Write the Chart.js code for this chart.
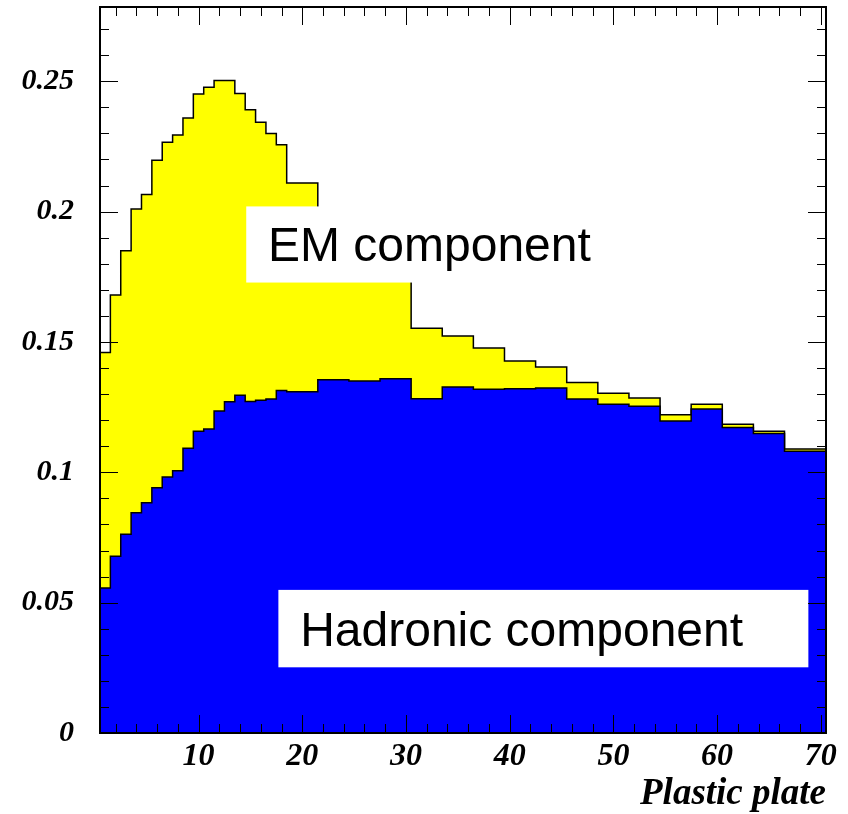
<!DOCTYPE html>
<html>
<head>
<meta charset="utf-8">
<title>Plastic plate</title>
<script src="https://cdn.jsdelivr.net/npm/chart.js@4.4.1/dist/chart.umd.min.js"></script>
<style>
  html, body { margin: 0; padding: 0; background: #fff; }
  canvas { display: block; }
</style>
</head>
<body>
<canvas id="plot" width="848" height="814"></canvas>
<script>
// ── data ──────────────────────────────────────────
// bin edges along the plastic plate number (single plates first, then groups of 3)
const binEdges = [0.5, 1.5, 2.5, 3.5, 4.5, 5.5, 6.5, 7.5, 8.5, 9.5, 10.5, 11.5, 12.5,
  13.5, 14.5, 15.5, 16.5, 17.5, 18.5, 21.5, 24.5, 27.5, 30.5, 33.5, 36.5, 39.5,
  42.5, 45.5, 48.5, 51.5, 54.5, 57.5, 60.5, 63.5, 66.5, 70.5];

// hadronic part of the signal per bin
const hadronic = [0.0556, 0.0678, 0.0762, 0.0845, 0.0883, 0.0941, 0.0982, 0.1006,
  0.1092, 0.1158, 0.1166, 0.1235, 0.1271, 0.1296, 0.1272, 0.1276, 0.1281, 0.1314,
  0.1309, 0.1355, 0.1350, 0.1359, 0.1282, 0.1327, 0.1319, 0.1321, 0.1323, 0.1281,
  0.1261, 0.1253, 0.1197, 0.1243, 0.1172, 0.1149, 0.1081];

// electromagnetic part, stacked on top of the hadronic one
const emComponent = [0.0904, 0.1002, 0.1088, 0.1165, 0.1183, 0.1256, 0.1284, 0.1288,
  0.1267, 0.1293, 0.1311, 0.1268, 0.1232, 0.1157, 0.1119, 0.1067, 0.1019, 0.0943,
  0.0801, 0.0635, 0.0520, 0.0401, 0.0271, 0.0196, 0.0158, 0.0106, 0.0081, 0.0064,
  0.0042, 0.0032, 0.0024, 0.0018, 0.0012, 0.0009, 0.0008];

const xTicks = [10, 20, 30, 40, 50, 60, 70];
const xTickLabels = ['10', '20', '30', '40', '50', '60', '70'];
const yTicks = [0, 0.05, 0.1, 0.15, 0.2, 0.25];
const yTickLabels = ['0', '0.05', '0.1', '0.15', '0.2', '0.25'];

const X_MIN = 0.5, X_MAX = 70.5;
const Y_MIN = 0, Y_MAX = 0.2785;

// text panels, in axis units
const panels = [
  { text: 'EM component', x0: 14.6, x1: 50, y0: 0.2020, y1: 0.1728, tx: 16.7, ty: 0.1810 },
  { text: 'Hadronic component', x0: 17.7, x1: 68.8, y0: 0.0549, y1: 0.0252, tx: 19.8, ty: 0.0335 }
];

// ── helpers ───────────────────────────────────────
// histogram -> points at bin edges, last edge repeats the last content
function histPoints(values) {
  return binEdges.map((e, i) => ({ x: e, y: values[Math.min(i, values.length - 1)] }));
}

const total = hadronic.map((h, i) => h + emComponent[i]);

const tickFont = size => ({ family: 'Liberation Serif', size, weight: 'bold', style: 'italic' });

// panels, inward ticks on all four sides and the frame
const frameAndPanels = {
  id: 'frameAndPanels',
  afterDatasetsDraw(chart) {
    const { ctx, chartArea: a, scales: { x, y } } = chart;
    ctx.save();

    panels.forEach(p => {
      const left = x.getPixelForValue(p.x0), right = x.getPixelForValue(p.x1);
      const top = y.getPixelForValue(p.y0), bottom = y.getPixelForValue(p.y1);
      ctx.fillStyle = '#fff';
      ctx.fillRect(left, top, right - left, bottom - top);
      ctx.fillStyle = '#000';
      ctx.font = '48px "Liberation Sans", Arial, sans-serif';
      ctx.textAlign = 'left';
      ctx.textBaseline = 'alphabetic';
      ctx.fillText(p.text, x.getPixelForValue(p.tx), y.getPixelForValue(p.ty));
    });

    ctx.strokeStyle = '#000';
    ctx.lineWidth = 1;
    ctx.beginPath();
    for (let v = 2; v < X_MAX; v += 2) {
      const len = v % 10 === 0 ? 18 : 9;
      const px = Math.round(x.getPixelForValue(v)) + 0.5;
      ctx.moveTo(px, a.bottom); ctx.lineTo(px, a.bottom - len);
      ctx.moveTo(px, a.top); ctx.lineTo(px, a.top + len);
    }
    for (let i = 1; i / 100 < Y_MAX; i++) {
      const len = i % 5 === 0 ? 18 : 9;
      const py = Math.round(y.getPixelForValue(i / 100)) + 0.5;
      ctx.moveTo(a.left, py); ctx.lineTo(a.left + len, py);
      ctx.moveTo(a.right, py); ctx.lineTo(a.right - len, py);
    }
    ctx.stroke();

    ctx.lineWidth = 2;
    ctx.strokeRect(a.left, a.top, a.right - a.left, a.bottom - a.top);
    ctx.restore();
  }
};

// ── chart ─────────────────────────────────────────
new Chart(document.getElementById('plot'), {
  type: 'line',
  data: {
    datasets: [
      {
        label: 'Hadronic component',
        data: histPoints(hadronic),
        stepped: true,
        fill: 'origin',
        backgroundColor: '#0000ff',
        borderColor: '#000',
        borderWidth: 1.5,
        pointRadius: 0,
        order: 1
      },
      {
        label: 'EM component',
        data: histPoints(total),
        stepped: true,
        fill: 'origin',
        backgroundColor: '#ffff00',
        borderColor: '#000',
        borderWidth: 1.5,
        pointRadius: 0,
        order: 2
      }
    ]
  },
  options: {
    responsive: false,
    devicePixelRatio: 1,
    animation: false,
    layout: { padding: { left: 0, top: 7, right: 22, bottom: 0 } },
    plugins: {
      legend: { display: false },
      tooltip: { enabled: false }
    },
    scales: {
      x: {
        type: 'linear',
        min: X_MIN,
        max: X_MAX,
        grid: { display: false, drawTicks: false },
        border: { display: false },
        afterBuildTicks: s => { s.ticks = xTicks.map(v => ({ value: v })); },
        afterFit: s => { s.height = 81; s.paddingLeft = 0; s.paddingRight = 0; },
        ticks: {
          autoSkip: false,
          maxRotation: 0,
          padding: 5,
          color: '#000',
          font: tickFont(32),
          callback: v => xTickLabels[xTicks.indexOf(v)]
        },
        title: {
          display: true,
          text: 'Plastic plate',
          align: 'end',
          color: '#000',
          font: tickFont(37),
          padding: { top: 0, bottom: -3 }
        }
      },
      y: {
        type: 'linear',
        min: Y_MIN,
        max: Y_MAX,
        grid: { display: false, drawTicks: false },
        border: { display: false },
        afterBuildTicks: s => { s.ticks = yTicks.map(v => ({ value: v })); },
        afterFit: s => { s.width = 100; s.paddingTop = 0; s.paddingBottom = 0; },
        ticks: {
          padding: 26,
          color: '#000',
          font: tickFont(30),
          callback: v => yTickLabels[yTicks.indexOf(v)]
        }
      }
    }
  },
  plugins: [frameAndPanels]
});
</script>
</body>
</html>
